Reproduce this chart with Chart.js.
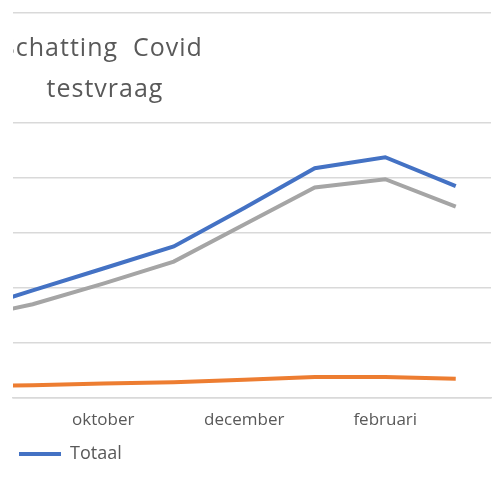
<!DOCTYPE html>
<html>
<head>
<meta charset="utf-8">
<script src="https://cdn.jsdelivr.net/npm/chart.js@4"></script>
<style>
    html, body { margin: 0; padding: 0; background: #fff; }
    #wrap { width: 502px; height: 483px; position: relative; }
</style>
</head>
<body>
<div id="wrap"><canvas id="testChart"></canvas></div>
<script>
// Months (augustus sits just left of the visible plot)
const months = ['augustus', 'september', 'oktober', 'november', 'december', 'januari', 'februari', 'maart'];

// Series
const totaal  = [3100, 3900, 4700, 5500, 6900, 8350, 8750, 7700];
const zorg    = [400, 450, 510, 560, 650, 750, 750, 690];
const overig  = [2850, 3400, 4150, 4950, 6300, 7650, 7950, 6950];

const titleLines = ['Schatting  Covid', 'testvraag'];
const textColor = '#595959';
const fontFamily = '"Open Sans", "Noto Sans", sans-serif';

function points(values) {
    return values.map(function(v, i) { return { x: i, y: v }; });
}

// Title drawn over the plot; the original picture is cut at the plot's left edge
const titlePlugin = {
    id: 'leftTitle',
    afterDraw: function(chart) {
        const ctx = chart.ctx;
        ctx.save();
        ctx.beginPath();
        ctx.rect(13, 0, chart.width - 13, chart.height);
        ctx.clip();
        ctx.fillStyle = textColor;
        ctx.font = '25px ' + fontFamily;
        ctx.letterSpacing = '1px';
        ctx.textAlign = 'center';
        ctx.textBaseline = 'middle';
        ctx.fillText(titleLines[0], 102, 49);
        ctx.fillText(titleLines[1], 105, 90);
        ctx.restore();
    }
};

const ctx = document.getElementById('testChart').getContext('2d');
const testChart = new Chart(ctx, {
    type: 'line',
    data: {
        datasets: [{
            label: 'Totaal',
            data: points(totaal),
            borderColor: '#4472C4',
            backgroundColor: '#4472C4',
            borderWidth: 4,
            pointRadius: 0,
            tension: 0
        }, {
            label: 'Zorg',
            data: points(zorg),
            borderColor: '#ED7D31',
            backgroundColor: '#ED7D31',
            borderWidth: 4,
            pointRadius: 0,
            tension: 0
        }, {
            label: 'Overig',
            data: points(overig),
            borderColor: '#A5A5A5',
            backgroundColor: '#A5A5A5',
            borderWidth: 4,
            pointRadius: 0,
            tension: 0
        }]
    },
    options: {
        responsive: true,
        maintainAspectRatio: false,
        animation: false,
        layout: { padding: { left: 13, right: 11, top: 13, bottom: 10 } },
        plugins: {
            legend: {
                position: 'bottom',
                align: 'start',
                labels: {
                    filter: function(item) { return item.text === 'Totaal'; },
                    usePointStyle: true,
                    pointStyle: 'line',
                    pointStyleWidth: 42,
                    color: textColor,
                    font: { family: fontFamily, size: 18 },
                    padding: 6
                }
            },
            tooltip: { enabled: false }
        },
        scales: {
            x: {
                type: 'linear',
                min: 0.72,
                max: 7.5,
                afterFit: function(scale) { scale.height += 5; },
                grid: { display: false },
                border: { color: '#d9d9d9', width: 1.5 },
                ticks: {
                    stepSize: 1,
                    autoSkip: false,
                    maxRotation: 0,
                    includeBounds: false,
                    padding: 4,
                    color: textColor,
                    font: { family: fontFamily, size: 17 },
                    callback: function(value) {
                        if (Number.isInteger(value) && value % 2 === 0) return months[value];
                        return '';
                    }
                }
            },
            y: {
                min: 0,
                max: 14000,
                grid: {
                    drawTicks: false,
                    lineWidth: 1.5,
                    color: function(c) {
                        return c.tick && c.tick.value === 12000 ? 'rgba(0,0,0,0)' : '#d9d9d9';
                    }
                },
                border: { display: false },
                ticks: { display: false, stepSize: 2000 }
            }
        }
    },
    plugins: [titlePlugin]
});
</script>
</body>
</html>
